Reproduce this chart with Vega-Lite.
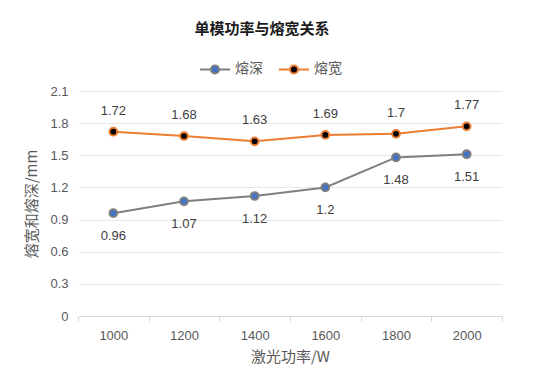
{
  "$schema": "https://vega.github.io/schema/vega-lite/v6.json",
  "width": 424,
  "height": 225,
  "autosize": {"type": "none"},
  "padding": {"left": 78, "top": 91, "right": 32, "bottom": 73},
  "background": "white",
  "title": {
    "text": "单模功率与熔宽关系",
    "font": "Noto Sans CJK SC",
    "fontSize": 15,
    "fontWeight": "bold",
    "color": "#1a1a1a",
    "anchor": "middle",
    "dx": -28,
    "offset": 16
  },
  "config": {
    "view": {"stroke": null},
    "font": "Liberation Sans"
  },
  "data": {
    "values": [
      {"power": "1000", "series": "熔深", "value": 0.96},
      {"power": "1200", "series": "熔深", "value": 1.07},
      {"power": "1400", "series": "熔深", "value": 1.12},
      {"power": "1600", "series": "熔深", "value": 1.2},
      {"power": "1800", "series": "熔深", "value": 1.48},
      {"power": "2000", "series": "熔深", "value": 1.51},
      {"power": "1000", "series": "熔宽", "value": 1.72},
      {"power": "1200", "series": "熔宽", "value": 1.68},
      {"power": "1400", "series": "熔宽", "value": 1.63},
      {"power": "1600", "series": "熔宽", "value": 1.69},
      {"power": "1800", "series": "熔宽", "value": 1.7},
      {"power": "2000", "series": "熔宽", "value": 1.77}
    ]
  },
  "encoding": {
    "x": {
      "field": "power",
      "type": "ordinal",
      "scale": {"type": "band", "paddingInner": 0, "paddingOuter": 0},
      "axis": {
        "title": "激光功率/W",
        "titleFont": "Noto Sans CJK SC",
        "titleFontSize": 15,
        "titleFontWeight": "normal",
        "titleColor": "#595959",
        "titlePadding": 7,
        "labelAngle": 0,
        "labelFontSize": 13,
        "labelColor": "#595959",
        "labelPadding": 8,
        "tickBand": "extent",
        "tickSize": 5,
        "tickColor": "#d9d9d9",
        "domainColor": "#d9d9d9",
        "grid": false
      }
    },
    "y": {
      "field": "value",
      "type": "quantitative",
      "scale": {"domain": [0, 2.1], "nice": false, "zero": true},
      "axis": {
        "title": "熔宽和熔深/mm",
        "titleFont": "Noto Sans CJK SC",
        "titleFontSize": 15,
        "titleFontWeight": "normal",
        "titleColor": "#595959",
        "titlePadding": 10,
        "values": [0, 0.3, 0.6, 0.9, 1.2, 1.5, 1.8, 2.1],
        "format": "~g",
        "labelFontSize": 13,
        "labelColor": "#595959",
        "labelPadding": 10,
        "domain": false,
        "ticks": false,
        "grid": true,
        "gridColor": "#e8e8e8",
        "gridWidth": 1
      }
    }
  },
  "layer": [
    {
      "mark": {"type": "line", "strokeWidth": 2},
      "encoding": {
        "stroke": {
          "field": "series",
          "type": "nominal",
          "scale": {"domain": ["熔深", "熔宽"], "range": ["#7f7f7f", "#ed7d31"]},
          "legend": {
            "title": null,
            "orient": "none",
            "legendX": 121,
            "legendY": -38,
            "direction": "horizontal",
            "symbolType": "M-1,0H-0.27M0.27,0H1M0.27,0A0.27,0.27,0,1,1,-0.27,0A0.27,0.27,0,1,1,0.27,0Z",
            "symbolSize": 900,
            "symbolStrokeWidth": 2,
            "labelFont": "Noto Sans CJK SC",
            "labelFontSize": 14,
            "labelColor": "#595959",
            "labelOffset": 4,
            "columnPadding": 12
          }
        }
      }
    },
    {
      "mark": {"type": "point", "filled": false, "size": 60, "strokeWidth": 2, "opacity": 1},
      "encoding": {
        "stroke": {"field": "series", "type": "nominal"},
        "fill": {
          "field": "series",
          "type": "nominal",
          "scale": {"domain": ["熔深", "熔宽"], "range": ["#4472c4", "#000000"]}
        }
      }
    },
    {
      "transform": [{"filter": "datum.series === '熔宽'"}],
      "mark": {"type": "text", "dy": -21, "fontSize": 13, "color": "#404040", "font": "Liberation Sans"},
      "encoding": {"text": {"field": "value", "type": "quantitative", "format": "~g"}}
    },
    {
      "transform": [{"filter": "datum.series === '熔深'"}],
      "mark": {"type": "text", "dy": 23, "fontSize": 13, "color": "#404040", "font": "Liberation Sans"},
      "encoding": {"text": {"field": "value", "type": "quantitative", "format": "~g"}}
    }
  ]
}
